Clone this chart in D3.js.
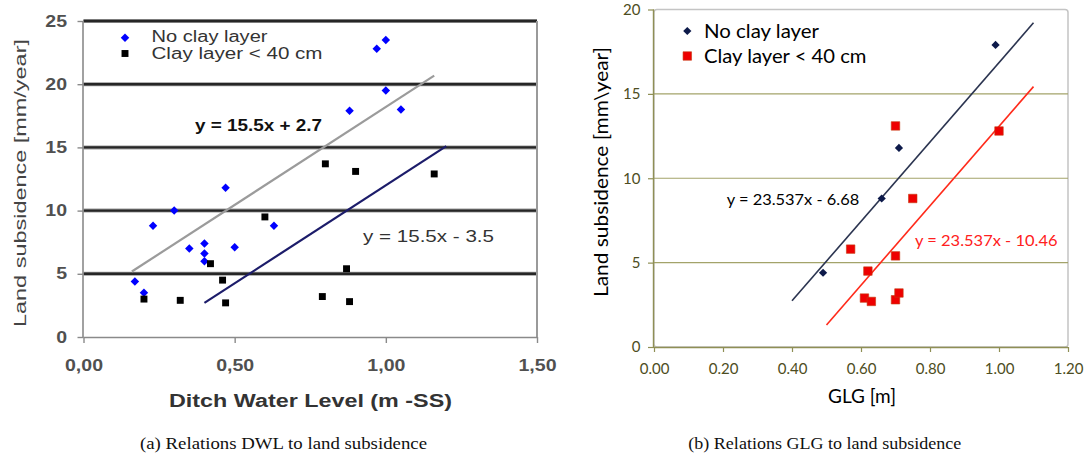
<!DOCTYPE html>
<html><head><meta charset="utf-8">
<script src="https://cdn.jsdelivr.net/npm/d3@7"></script>
<style>body{margin:0;background:#fff;} svg{display:block;}</style>
</head><body>
<svg id="c" width="1090" height="460"></svg>
<script>
// ===== Panel (a): Ditch Water Level vs land subsidence =====
const dwlNoClayX = [0.17, 0.20, 0.23, 0.30, 0.35, 0.40, 0.40, 0.40, 0.47, 0.50, 0.63, 0.88, 0.97, 1.00, 1.00, 1.05];
const dwlNoClayY = [4.4, 3.5, 8.8, 10.0, 7.0, 7.4, 6.6, 6.0, 11.8, 7.1, 8.8, 17.9, 22.8, 23.5, 19.5, 18.0];
const dwlClayX = [0.20, 0.32, 0.42, 0.46, 0.47, 0.60, 0.79, 0.80, 0.87, 0.88, 0.90, 1.16];
const dwlClayY = [3.0, 2.9, 5.8, 4.5, 2.7, 9.5, 3.2, 13.7, 5.4, 2.8, 13.1, 12.9];
const dwlFitNoClay = [15.5, 2.7];      // slope, intercept
const dwlFitNoClayRange = [0.16, 1.16];
const dwlFitClay = [15.5, -3.5];
const dwlFitClayRange = [0.40, 1.20];
const dwlXTicks = [0, 0.5, 1.0, 1.5];
const dwlXTickLabels = ["0,00", "0,50", "1,00", "1,50"];
const dwlYTicks = [0, 5, 10, 15, 20, 25];
const dwlLegend = ["No clay layer", "Clay layer < 40 cm"];
const dwlEquations = ["y = 15.5x + 2.7", "y = 15.5x - 3.5"];

// ===== Panel (b): GLG vs land subsidence =====
const glgNoClayX = [0.49, 0.66, 0.71, 0.99];
const glgNoClayY = [4.4, 8.8, 11.8, 17.9];
const glgClayX = [0.57, 0.61, 0.62, 0.63, 0.70, 0.70, 0.70, 0.71, 0.75, 1.00];
const glgClayY = [5.8, 2.9, 4.5, 2.7, 13.1, 5.4, 2.8, 3.2, 8.8, 12.8];
const glgFitNoClay = [23.537, -6.68];
const glgFitNoClayRange = [0.40, 1.10];
const glgFitClay = [23.537, -10.46];
const glgFitClayRange = [0.50, 1.10];
const glgXTicks = [0, 0.2, 0.4, 0.6, 0.8, 1.0, 1.2];
const glgXTickLabels = ["0.00", "0.20", "0.40", "0.60", "0.80", "1.00", "1.20"];
const glgYTicks = [0, 5, 10, 15, 20];
const glgLegend = ["No clay layer", "Clay layer < 40 cm"];
const glgEquations = ["y = 23.537x - 6.68", "y = 23.537x - 10.46"];

const captions = ["(a) Relations DWL to land subsidence", "(b) Relations GLG to land subsidence"];

const svg = d3.select("#c");
const zip = (xs, ys) => xs.map((x, i) => ({x, y: ys[i]}));
function fit(sel, w) { sel.attr("textLength", w).attr("lengthAdjust", "spacingAndGlyphs"); return sel; }
function stretch(sel, f) {
  sel.each(function () { const L = this.getComputedTextLength(); d3.select(this).attr("textLength", L * f).attr("lengthAdjust", "spacingAndGlyphs"); });
}

// ---------------- Panel (a) ----------------
const xA = d3.scaleLinear().domain([0, 1.5]).range([83.5, 537]);
const yA = d3.scaleLinear().domain([0, 25]).range([337, 21]);
const gA = svg.append("g").attr("font-family", "'Liberation Sans', Arial, sans-serif");

// gridlines (dark, thick)
gA.append("g").selectAll("line").data(dwlYTicks.filter(d => d > 0)).join("line")
  .attr("x1", xA(0)).attr("x2", xA(1.5)).attr("y1", d => yA(d)).attr("y2", d => yA(d))
  .attr("stroke", "#9a9a9a").attr("stroke-width", 4);
gA.append("g").selectAll("line").data(dwlYTicks.filter(d => d > 0)).join("line")
  .attr("x1", xA(0)).attr("x2", xA(1.5)).attr("y1", d => yA(d)).attr("y2", d => yA(d))
  .attr("stroke", "#262626").attr("stroke-width", 2.4);
// right border
gA.append("line").attr("x1", xA(1.5)).attr("x2", xA(1.5)).attr("y1", yA(25)).attr("y2", yA(0))
  .attr("stroke", "#9a9a9a").attr("stroke-width", 2);

const axAy = gA.append("g").attr("transform", `translate(${xA(0)},0)`)
  .call(d3.axisLeft(yA).tickValues(dwlYTicks).tickSize(6).tickPadding(10.5));
const axAx = gA.append("g").attr("transform", `translate(0,${yA(0)})`)
  .call(d3.axisBottom(xA).tickValues(dwlXTicks).tickSize(6).tickPadding(17).tickFormat((d, i) => dwlXTickLabels[i]));
[axAy, axAx].forEach(a => {
  a.select(".domain").attr("stroke", "#8a8a8a").attr("stroke-width", 1.6);
  a.selectAll(".tick line").attr("stroke", "#8a8a8a").attr("stroke-width", 1.4);
  a.selectAll(".tick text").attr("fill", "#505050").attr("font-size", 16).attr("font-weight", "bold")
    .attr("font-family", "'Liberation Sans', Arial, sans-serif");
});
axAy.select(".domain").attr("d", `M-0.5,${yA(25)}V${yA(0)}`);
axAx.select(".domain").attr("d", `M${xA(0)},0.5H${xA(1.5)}`);
stretch(axAy.selectAll(".tick text"), 1.22);
stretch(axAx.selectAll(".tick text"), 1.22);

// trend lines
const lineA = d3.line().x(d => xA(d[0])).y(d => yA(d[1]));
gA.append("path").attr("d", lineA(dwlFitNoClayRange.map(x => [x, dwlFitNoClay[0] * x + dwlFitNoClay[1]])))
  .attr("stroke", "#9b9b9b").attr("stroke-width", 2.2).attr("fill", "none");
gA.append("path").attr("d", lineA(dwlFitClayRange.map(x => [x, dwlFitClay[0] * x + dwlFitClay[1]])))
  .attr("stroke", "#1c1c6a").attr("stroke-width", 2.2).attr("fill", "none");

// markers
const diamondA = d3.symbol(d3.symbolSquare, 36);
gA.append("g").selectAll("path").data(zip(dwlNoClayX, dwlNoClayY)).join("path")
  .attr("d", diamondA).attr("transform", d => `translate(${xA(d.x)},${yA(d.y)}) rotate(45)`)
  .attr("fill", "#0000ff");
const squareA = d3.symbol(d3.symbolSquare, 48);
gA.append("g").selectAll("path").data(zip(dwlClayX, dwlClayY)).join("path")
  .attr("d", squareA).attr("transform", d => `translate(${xA(d.x)},${yA(d.y)})`)
  .attr("fill", "#000");

// legend
gA.append("path").attr("d", diamondA).attr("transform", "translate(125,37.7) rotate(45)").attr("fill", "#0000ff");
gA.append("path").attr("d", squareA).attr("transform", "translate(125,53.5)").attr("fill", "#000");
fit(gA.append("text").attr("x", 151.5).attr("y", 42).attr("font-size", 16).attr("fill", "#333").text(dwlLegend[0]), 116);
fit(gA.append("text").attr("x", 151.5).attr("y", 59).attr("font-size", 16).attr("fill", "#333").text(dwlLegend[1]), 171);

// equations
fit(gA.append("text").attr("x", 195).attr("y", 131).attr("font-size", 17).attr("font-weight", "bold").attr("fill", "#111").text(dwlEquations[0]), 127);
fit(gA.append("text").attr("x", 363).attr("y", 241.5).attr("font-size", 17).attr("fill", "#333").text(dwlEquations[1]), 131);

// axis titles
fit(gA.append("text").attr("x", 310.5).attr("y", 407).attr("text-anchor", "middle").attr("font-size", 18)
  .attr("font-weight", "bold").attr("fill", "#333").text("Ditch Water Level (m -SS)"), 283);
fit(gA.append("text").attr("transform", "translate(25.5,183) rotate(-90)").attr("text-anchor", "middle")
  .attr("font-size", 17).attr("fill", "#444").text("Land subsidence [mm/year]"), 288);

// ---------------- Panel (b) ----------------
const xB = d3.scaleLinear().domain([0, 1.2]).range([654, 1068]);
const yB = d3.scaleLinear().domain([0, 20]).range([347, 9.5]);
const gB = svg.append("g").attr("font-family", "Lato, 'Open Sans', sans-serif");
const olive = "#a3a36a";

// plot border (light gray, rounded)
gB.append("rect").attr("x", xB(0)).attr("y", yB(20)).attr("width", xB(1.2) - xB(0)).attr("height", yB(0) - yB(20))
  .attr("rx", 3).attr("fill", "none").attr("stroke", "#c4c4c4").attr("stroke-width", 1.5);
// gridlines
gB.append("g").selectAll("line").data(glgYTicks.filter(d => d > 0 && d < 20)).join("line")
  .attr("x1", xB(0)).attr("x2", xB(1.2)).attr("y1", d => yB(d)).attr("y2", d => yB(d))
  .attr("stroke", olive).attr("stroke-width", 1.2);

const axBy = gB.append("g").attr("transform", `translate(${xB(0)},0)`)
  .call(d3.axisLeft(yB).tickValues(glgYTicks).tickSize(6).tickPadding(7.5));
const axBx = gB.append("g").attr("transform", `translate(0,${yB(0)})`)
  .call(d3.axisBottom(xB).tickValues(glgXTicks).tickSize(5).tickPadding(11).tickFormat((d, i) => glgXTickLabels[i]));
[axBy, axBx].forEach(a => {
  a.select(".domain").attr("stroke", "#8f8f55").attr("stroke-width", 1.4);
  a.selectAll(".tick line").attr("stroke", "#8f8f55").attr("stroke-width", 1.2);
  a.selectAll(".tick text").attr("fill", "#4d4d22").attr("font-size", 15).attr("font-family", "Lato, 'Open Sans', sans-serif");
});
axBy.select(".domain").attr("d", `M-0.5,${yB(20)}V${yB(0)}`);
axBx.select(".domain").attr("d", `M${xB(0)},0.5H${xB(1.2)}`);

// trend lines
const lineB = d3.line().x(d => xB(d[0])).y(d => yB(d[1]));
gB.append("path").attr("d", lineB(glgFitNoClayRange.map(x => [x, glgFitNoClay[0] * x + glgFitNoClay[1]])))
  .attr("stroke", "#2b3450").attr("stroke-width", 1.6).attr("fill", "none");
gB.append("path").attr("d", lineB(glgFitClayRange.map(x => [x, glgFitClay[0] * x + glgFitClay[1]])))
  .attr("stroke", "#ff2a1a").attr("stroke-width", 1.6).attr("fill", "none");

// markers
const diamondB = d3.symbol(d3.symbolSquare, 34);
gB.append("g").selectAll("path").data(zip(glgNoClayX, glgNoClayY)).join("path")
  .attr("d", diamondB).attr("transform", d => `translate(${xB(d.x)},${yB(d.y)}) rotate(45)`)
  .attr("fill", "#0d1a4a");
const squareB = d3.symbol(d3.symbolSquare, 72);
gB.append("g").selectAll("path").data(zip(glgClayX, glgClayY)).join("path")
  .attr("d", squareB).attr("transform", d => `translate(${xB(d.x)},${yB(d.y)})`)
  .attr("fill", "#ee0000").attr("stroke", "#c43a10").attr("stroke-width", 0.6);

// legend
gB.append("path").attr("d", diamondB).attr("transform", "translate(687.3,31) rotate(45)").attr("fill", "#0d1a4a");
gB.append("path").attr("d", squareB).attr("transform", "translate(687.3,56)").attr("fill", "#ee0000").attr("stroke", "#c43a10").attr("stroke-width", 0.6);
fit(gB.append("text").attr("x", 704).attr("y", 37.5).attr("font-size", 20).attr("fill", "#000").text(glgLegend[0]), 115);
fit(gB.append("text").attr("x", 704).attr("y", 63).attr("font-size", 20).attr("fill", "#000").text(glgLegend[1]), 162.5);

// equations
fit(gB.append("text").attr("x", 726.7).attr("y", 205).attr("font-size", 15).attr("fill", "#000").text(glgEquations[0]), 132.5);
fit(gB.append("text").attr("x", 915).attr("y", 246).attr("font-size", 15.5).attr("fill", "#ff2020").text(glgEquations[1]), 142.5);

// axis titles
gB.append("text").attr("x", 862).attr("y", 403).attr("text-anchor", "middle").attr("font-size", 19).attr("fill", "#000").text("GLG [m]");
fit(gB.append("text").attr("transform", "translate(607.5,172) rotate(-90)").attr("text-anchor", "middle")
  .attr("font-size", 19).attr("fill", "#000").text("Land subsidence [mm\\year]"), 250);

// ---------------- Captions ----------------
const gC = svg.append("g").attr("font-family", "'Liberation Serif', 'Times New Roman', serif").attr("fill", "#111");
fit(gC.append("text").attr("x", 140).attr("y", 448.5).attr("font-size", 17.5).text(captions[0]), 287);
fit(gC.append("text").attr("x", 688.3).attr("y", 448.5).attr("font-size", 17.5).text(captions[1]), 273);
</script>
</body></html>
